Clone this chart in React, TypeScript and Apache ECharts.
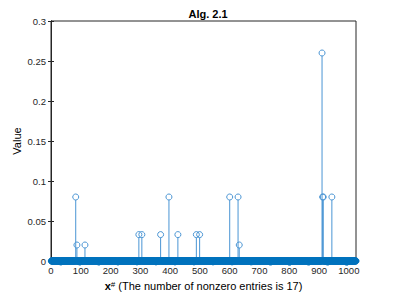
import React, { useEffect, useRef } from "react";
import * as echarts from "echarts";

const signalLength = 1024;
const nonzeroIndices = [83, 87, 114, 295, 305, 368, 396, 426, 488, 499, 600, 628, 632, 910, 912, 914, 943];
const nonzeroValues = [0.08, 0.02, 0.02, 0.033, 0.033, 0.033, 0.08, 0.033, 0.033, 0.033, 0.08, 0.08, 0.02, 0.26, 0.08, 0.08, 0.08];
const yTicks = [0, 0.05, 0.1, 0.15, 0.2, 0.25, 0.3];
const xTickStep = 100;
const titleText = "Alg. 2.1";
const yLabel = "Value";
const xLabelRest = " (The number of nonzero entries is 17)";

const FONT = "Liberation Sans, Arial, Helvetica, sans-serif";
const AXIS = "#262626";
const STEM = "#4a95d4";
const BAND = "#0072BD";

export default function App() {
  const ref = useRef<HTMLDivElement>(null);
  useEffect(() => {
    if (!ref.current) return;
    const chart = echarts.init(ref.current, null, { renderer: "svg" });

    const signal: number[] = new Array(signalLength).fill(0);
    nonzeroIndices.forEach((idx, i) => {
      signal[idx - 1] = nonzeroValues[i];
    });
    const zeroData: number[][] = [];
    const stemData: number[][] = [];
    signal.forEach((v, i) => {
      if (v === 0) zeroData.push([i + 1, v]);
      else stemData.push([i + 1, v]);
    });

    const renderStem = (params: any, api: any) => {
      const x = api.value(0);
      const y = api.value(1);
      const p0 = api.coord([x, 0]);
      const p1 = api.coord([x, y]);
      const children: any[] = [];
      if (y !== 0) {
        children.push({
          type: "line",
          shape: { x1: p0[0], y1: p0[1], x2: p1[0], y2: p1[1] + 3 },
          style: { stroke: STEM, lineWidth: 1 },
        });
      }
      children.push({
        type: "circle",
        shape: { cx: p1[0], cy: p1[1], r: 3 },
        style: { fill: "none", stroke: y === 0 ? BAND : STEM, lineWidth: 1 },
      });
      return { type: "group", children };
    };

    const axisLabelStyle = { color: AXIS, fontSize: 9.5, fontFamily: FONT };

    chart.setOption({
      animation: false,
      backgroundColor: "#ffffff",
      title: {
        text: titleText,
        left: 203,
        top: 3,
        textAlign: "center",
        textStyle: { fontSize: 11, fontWeight: "bold", color: "#000", fontFamily: FONT },
      },
      grid: {
        left: 51,
        right: 37,
        top: 21,
        bottom: 33,
        outerBoundsMode: "none",
        containLabel: false,
        show: true,
        borderColor: AXIS,
        borderWidth: 1,
        backgroundColor: "#fff",
      },
      xAxis: [
        {
          type: "value",
          min: 0,
          max: signalLength,
          interval: xTickStep,
          position: "bottom",
          axisLine: { show: true, lineStyle: { color: AXIS, width: 1 } },
          axisTick: { show: true, inside: true, length: 3, lineStyle: { color: AXIS } },
          splitLine: { show: false },
          axisLabel: {
            ...axisLabelStyle,
            margin: 4,
            formatter: (v: number) => (v % xTickStep === 0 ? String(v) : ""),
          },
          name: `{b|x}{s|#}{n|${xLabelRest}}`,
          nameLocation: "middle",
          nameGap: 19,
          nameMoveOverlap: false,
          nameTextStyle: {
            rich: {
              b: { fontSize: 11, fontWeight: "bold", color: "#000", fontFamily: FONT },
              s: { fontSize: 8, color: "#000", fontFamily: FONT, verticalAlign: "top", lineHeight: 8 },
              n: { fontSize: 11, color: "#000", fontFamily: FONT },
            },
          },
        },
        {
          type: "value",
          min: 0,
          max: signalLength,
          interval: xTickStep,
          position: "top",
          axisLine: { show: true, lineStyle: { color: AXIS, width: 1 } },
          axisTick: { show: true, inside: true, length: 3, lineStyle: { color: AXIS } },
          axisLabel: { show: false },
          splitLine: { show: false },
        },
      ],
      yAxis: [
        {
          type: "value",
          min: yTicks[0],
          max: yTicks[yTicks.length - 1],
          interval: yTicks[1] - yTicks[0],
          position: "left",
          axisLine: { show: true, lineStyle: { color: AXIS, width: 1 } },
          axisTick: { show: true, inside: true, length: 3, lineStyle: { color: AXIS } },
          splitLine: { show: false },
          axisLabel: { ...axisLabelStyle, margin: 5 },
          name: yLabel,
          nameLocation: "middle",
          nameGap: 29,
          nameMoveOverlap: false,
          nameTextStyle: { fontSize: 11, color: "#000", fontFamily: FONT },
        },
        {
          type: "value",
          min: yTicks[0],
          max: yTicks[yTicks.length - 1],
          interval: yTicks[1] - yTicks[0],
          position: "right",
          axisLine: { show: true, lineStyle: { color: AXIS, width: 1 } },
          axisTick: { show: true, inside: true, length: 3, lineStyle: { color: AXIS } },
          axisLabel: { show: false },
          splitLine: { show: false },
        },
      ],
      series: [
        {
          type: "custom",
          name: "zeros",
          xAxisIndex: 0,
          yAxisIndex: 0,
          renderItem: renderStem,
          data: zeroData,
          clip: false,
          z: 3,
        },
        {
          type: "custom",
          name: "stems",
          xAxisIndex: 0,
          yAxisIndex: 0,
          renderItem: renderStem,
          data: stemData,
          clip: false,
          z: 2,
        },
      ],
    });
    return () => chart.dispose();
  }, []);

  return (
    <div
      ref={ref}
      style={{ position: "fixed", left: 0, top: 0, width: 393, height: 294, background: "#fff" }}
    />
  );
}
